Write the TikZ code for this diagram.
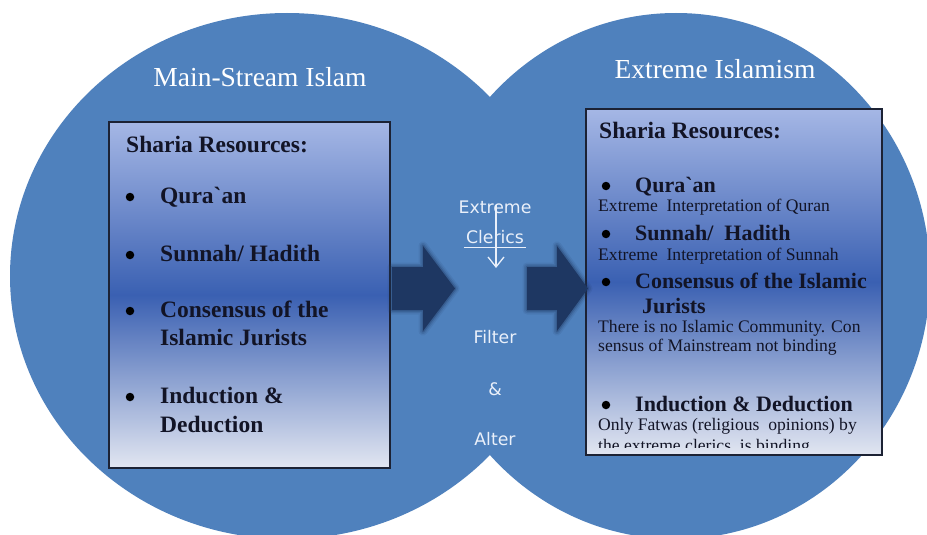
\documentclass[tikz,border=0pt]{standalone}
\usepackage{fontspec}
\usetikzlibrary{arrows.meta}
\newfontfamily\ser{Liberation Serif}
\newfontfamily\midfont{DejaVu Sans}
\definecolor{circ}{RGB}{79,129,189}
\definecolor{navy}{RGB}{30,55,98}
\definecolor{gtop}{RGB}{165,183,229}
\definecolor{gmid}{RGB}{58,96,178}
\definecolor{gbot}{RGB}{226,230,241}
\definecolor{boxline}{RGB}{28,34,52}
\definecolor{txt}{RGB}{18,20,38}
\definecolor{midtxt}{RGB}{234,240,250}
\tikzset{
  title/.style={anchor=base, inner sep=0, text=white, font=\ser\fontsize{27.5}{30}\selectfont},
  head/.style={anchor=base west, inner sep=0, text=txt, font=\ser\fontsize{23.5}{28}\selectfont\bfseries},
  litem/.style={anchor=base west, inner sep=0, text=txt, font=\ser\fontsize{23.5}{28}\selectfont\bfseries},
  ritem/.style={anchor=base west, inner sep=0, text=txt, font=\ser\fontsize{22}{26}\selectfont\bfseries},
  rsub/.style={anchor=base west, inner sep=0, text=txt, font=\ser\fontsize{17.6}{20}\selectfont},
  midt/.style={anchor=base, inner sep=0, text=midtxt, font=\midfont\fontsize{17.3}{20}\selectfont},
  dot/.style={circle, fill=black, inner sep=0, minimum size=8.5pt},
  sharebox/.style={draw=boxline, line width=1.3pt, top color=gtop, bottom color=gbot, middle color=gmid},
}
\newcommand\larrowpath{(392,267) -- (423,267) -- (423,246) -- (455,288.5) -- (423,331) -- (423,310) -- (392,310) -- cycle}
\newcommand\rarrowpath{(527,267) -- (557,267) -- (557,246) -- (588,288.5) -- (557,331) -- (557,310) -- (527,310) -- cycle}
\begin{document}
\begin{tikzpicture}[x=1pt,y=-1pt]
\useasboundingbox (0,0) rectangle (927,535);
\fill[white] (0,0) rectangle (927,535);
\begin{scope}
\clip (0,0) rectangle (927,535);
\fill[circ] (287,276) ellipse [x radius=277pt, y radius=263pt];
\fill[circ] (676,276) ellipse [x radius=254pt, y radius=263pt];
\end{scope}
% titles
\node[title] (t1) at (260,87) {Main-Stream Islam};
\node[title] (t2) at (715,78) {Extreme Islamism};
% left box
\path[sharebox] (109,122) rectangle (390,468);
\node[head] (lh) at (126,152) {Sharia Resources:};
\node[dot] (lb1) at (130,197) {};
\node[litem] (l1) at (160,203) {Qura`an};
\node[dot] (lb2) at (130,255) {};
\node[litem] (l2) at (160,261) {Sunnah/ Hadith};
\node[dot] (lb3) at (130,311) {};
\node[litem] (l3a) at (160,317) {Consensus of the};
\node[litem] (l3b) at (160,345) {Islamic Jurists};
\node[dot] (lb4) at (130,397) {};
\node[litem] (l4a) at (160,403) {Induction \&};
\node[litem] (l4b) at (160,432) {Deduction};
% right box
\path[sharebox] (586,109) rectangle (882,455);
\begin{scope}
\clip (587,110) rectangle (881,447);
\node[head] (rh) at (599,139) {Sharia Resources:};
\node[dot] (rb1) at (606,186) {};
\node[ritem] (r1) at (635,192) {Qura`an};
\node[rsub] (r1s) at (598,211) {Extreme\ \ Interpretation of Quran};
\node[dot] (rb2) at (606,234) {};
\node[ritem] (r2) at (635,240) {Sunnah/\ \ Hadith};
\node[rsub] (r2s) at (598,260) {Extreme\ \ Interpretation of Sunnah};
\node[dot] (rb3) at (606,282) {};
\node[ritem] (r3a) at (635,288) {Consensus of the Islamic};
\node[ritem] (r3b) at (642,313) {Jurists};
\node[rsub] (r3s) at (598,332) {There is no Islamic Community. Con};
\node[rsub] (r3t) at (598,351) {sensus of Mainstream not binding};
\node[dot] (rb4) at (606,405) {};
\node[ritem] (r4) at (635,411) {Induction \& Deduction};
\node[rsub] (r4s) at (598,430) {Only Fatwas (religious\ \ opinions) by};
\node[rsub] (r4t) at (598,451) {the extreme clerics\ \ is binding};
\end{scope}
% block arrows
\foreach \w/\o in {9/0.10,6/0.16,3/0.3}{
  \draw[navy, line width=\w pt, opacity=\o, line join=round] \larrowpath;
  \draw[navy, line width=\w pt, opacity=\o, line join=round] \rarrowpath;
}
\fill[navy] \larrowpath;
\fill[navy] \rarrowpath;
% middle texts
\node[midt] (m1) at (495,213) {Extreme};
\node[midt] (m2) at (495,243) {Clerics};
\draw[midtxt, line width=1pt] ([xshift=-2pt,yshift=-4.5pt]m2.base west) -- ([xshift=2pt,yshift=-4.5pt]m2.base east);
\coordinate (ctop) at (496,205);
\coordinate (cbot) at (496,268);
\draw[midtxt, line width=1.3pt, -{Straight Barb[length=10pt,width=16pt,line width=1.3pt]}] (ctop) -- (cbot);
\node[midt] (m3) at (495,343) {Filter};
\node[midt] (m4) at (495,395) {\&};
\node[midt] (m5) at (495,445) {Alter};
\end{tikzpicture}
\end{document}
